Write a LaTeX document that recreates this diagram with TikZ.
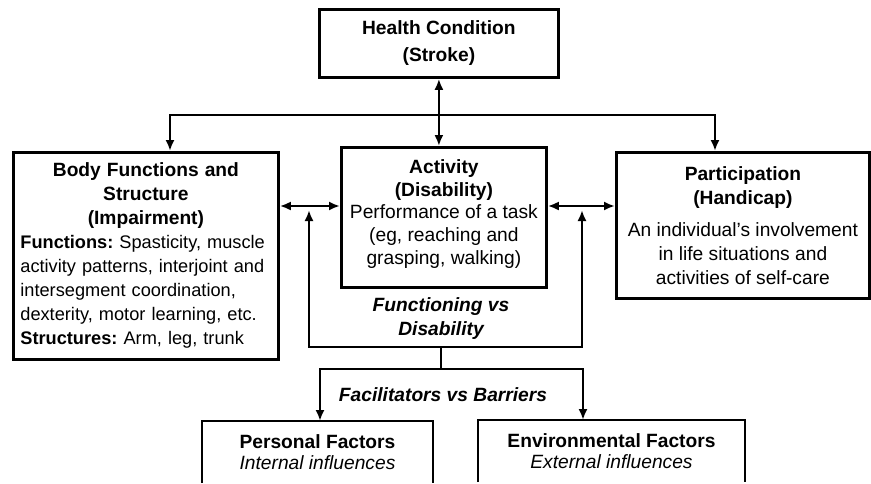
\documentclass[tikz,border=0pt]{standalone}
\usepackage{fontspec}
\setmainfont{Liberation Sans}
\usepackage{tikz}
\usetikzlibrary{arrows.meta}
\usetikzlibrary{calc}
\frenchspacing
\tikzset{
    box/.style={draw, line width=2.8pt, inner sep=0pt, align=center, anchor=north west, font=\fontsize{19.2}{24}\selectfont},
    openbox/.style={inner sep=0pt, outer sep=0pt, align=center, anchor=north west, font=\fontsize{19.2}{21}\selectfont},
    boxline/.style={line width=2.8pt},
    twoway/.style={line width=2.8pt, {Latex[length=11pt,width=9pt]}-{Latex[length=11pt,width=9pt]}},
    plainline/.style={line width=2.8pt},
    lab/.style={align=center, font=\fontsize{19.2}{24}\selectfont\bfseries\itshape}
}

\begin{document}
\begin{tikzpicture}[x=1pt,y=-1pt]
        \useasboundingbox (0,0) rectangle (871,483);

        \node[box, minimum width=239pt, minimum height=68pt, font=\fontsize{19.2}{27}\selectfont\bfseries] (hc) at (318,8) {Health Condition\\ (Stroke)};
        \node[box, minimum width=265pt, minimum height=207pt, text width=251pt, align=left, font=\fontsize{18.2}{24}\selectfont] (body) at (12,151)
            {{\centering\bfseries\fontsize{19.2}{24}\selectfont Body Functions and\\ Structure\\ (Impairment)\par}
             \textbf{Functions:} Spasticity, muscle\\ activity patterns, interjoint and\\ intersegment coordination,\\ dexterity, motor learning, etc.\\ \textbf{Structures:} Arm, leg, trunk};
        \node[box, minimum width=205pt, minimum height=140pt, font=\fontsize{19.2}{23}\selectfont] (act) at (340,146)
            {\textbf{Activity}\\ \textbf{(Disability)}\\[-1pt] Performance of a task\\ (eg, reaching and\\ grasping, walking)\\[-12pt] \mbox{}};
        \node[box, minimum width=253pt, minimum height=146pt] (part) at (615,151)
            {\textbf{Participation}\\ \textbf{(Handicap)}\\[8pt] An individual's involvement\\ in life situations and\\ activities of self-care};

        \node[openbox, minimum width=231pt, minimum height=62pt] (pers) at (202,421) {\textbf{Personal Factors}\\ \textit{Internal influences}};
        \node[openbox, minimum width=267pt, minimum height=62pt] (env) at (478,420) {\textbf{Environmental Factors}\\ \textit{External influences}};
        \draw[boxline] (pers.south west) -- (pers.north west) -- (pers.north east) -- (pers.south east);
        \draw[boxline] (env.south west) -- (env.north west) -- (env.north east) -- (env.south east);

        \coordinate (busL) at (170,115);
        \coordinate (busR) at (715,115);
        \coordinate (midRow) at (0,206);
        \coordinate (tipRow) at (0,210);
        \coordinate (funL) at (309,347);
        \coordinate (funR) at (582,347);
        \coordinate (stemTop) at (441,347);
        \coordinate (stemBot) at (441,369);
        \coordinate (lowL) at (320,369);
        \coordinate (lowR) at (583,369);

        \draw[twoway] (hc.south) -- (hc.south |- act.north);
        \draw[twoway] (busL |- body.north) -- (busL) -- (busR) -- (busR |- part.north);
        \draw[twoway] (body.east |- midRow) -- (act.west |- midRow);
        \draw[twoway] (act.east |- midRow) -- (part.west |- midRow);

        \draw[twoway] (funL |- tipRow) -- (funL) -- (funR) -- (funR |- tipRow);
        \node[lab] (func) at (441,319) {Functioning vs\\ Disability};
        \draw[plainline] (stemTop) -- (stemBot);
        \draw[twoway] (lowL |- pers.north) -- (lowL) -- (lowR) -- (lowR |- env.north);
        \node[lab] (facil) at (443,395) {Facilitators vs Barriers};
    \end{tikzpicture}
\end{document}
